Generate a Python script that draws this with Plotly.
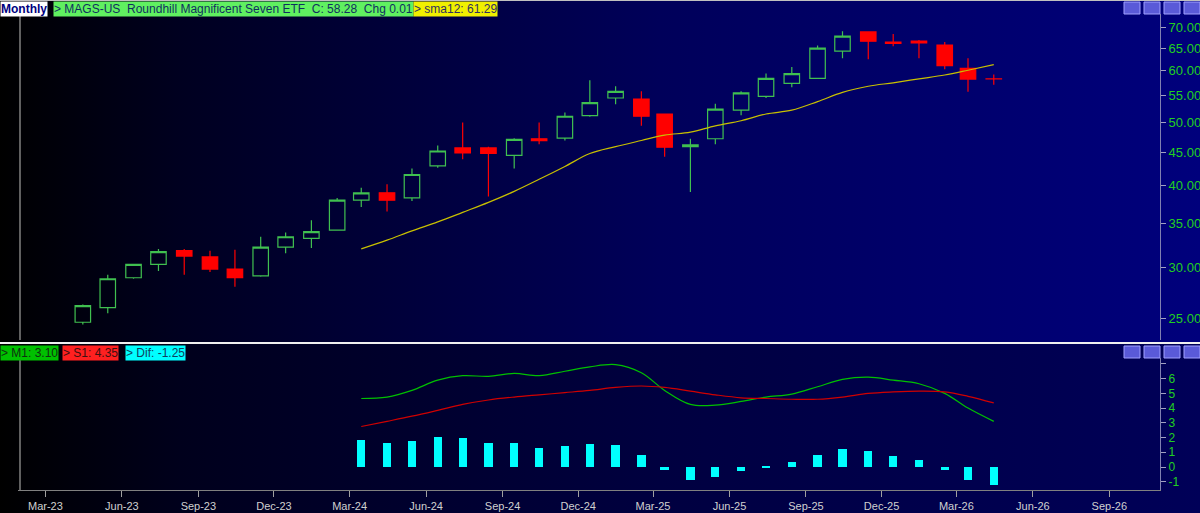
import plotly.graph_objects as go
import pandas as pd

months = pd.date_range("2023-04-01", periods=37, freq="MS") + pd.Timedelta(days=14)
dates = [d.strftime("%Y-%m-%d") for d in months]

opens  = [24.7,26.0,28.9,30.3,31.8,31.1,29.8,29.1,32.2,33.2,34.2,38.0,39.0,38.3,42.9,45.7,45.7,44.5,47.2,47.3,51.2,
          54.5,54.3,51.5,45.9,47.2,52.2,54.8,57.4,58.4,64.3,68.8,66.4,66.6,65.7,60.5,58.3]
highs  = [26.3,29.2,30.3,32.0,32.0,31.8,31.9,33.4,33.9,35.4,38.3,39.7,40.2,42.5,46.1,50.0,45.9,47.3,50.0,51.8,58.0,
          56.8,55.8,51.5,47.2,53.4,55.8,59.4,60.8,65.6,69.0,69.0,68.3,66.9,66.4,62.7,59.2]
lows   = [24.5,25.5,28.8,29.6,29.2,29.5,28.0,29.0,31.5,32.1,34.1,37.1,36.5,37.9,42.6,43.9,38.5,42.5,46.3,46.9,51.0,
          53.3,49.4,44.3,39.1,46.3,51.3,54.5,56.6,58.4,62.7,62.5,65.4,62.7,60.3,55.7,57.1]
closes = [26.2,28.8,30.3,31.7,31.2,29.8,28.9,32.2,33.4,34.0,38.0,39.0,38.0,41.6,45.2,44.9,44.8,47.1,46.9,51.1,53.6,
          55.8,51.1,45.8,46.2,52.4,55.5,58.4,59.4,65.0,67.8,66.6,66.1,66.2,61.1,58.27,58.28]

sma12 = [32.0,33.0,34.1,35.2,36.4,37.7,39.2,40.9,42.8,44.8,45.9,46.9,47.8,48.3,49.4,50.3,51.5,52.2,53.8,55.6,56.8,
         57.5,58.3,59.1,60.1,61.3]
m1  = [4.65,4.75,5.2,5.9,6.2,6.15,6.35,6.2,6.5,6.8,6.95,6.4,5.2,4.25,4.2,4.45,4.75,4.95,5.45,5.95,6.1,5.9,5.65,5.0,4.0,3.1]
s1  = [2.75,3.1,3.45,3.85,4.25,4.55,4.75,4.9,5.05,5.2,5.4,5.5,5.4,5.15,4.9,4.7,4.65,4.6,4.6,4.75,5.0,5.1,5.15,5.1,4.8,4.35]
dif = [1.85,1.6,1.75,2.05,1.95,1.65,1.6,1.3,1.45,1.55,1.5,0.85,-0.2,-0.85,-0.65,-0.3,0.1,0.35,0.85,1.2,1.1,0.75,0.5,-0.2,-0.9,-1.25]
ind_dates = dates[11:]

tick_vals = ["2023-03-01","2023-06-01","2023-09-01","2023-12-01","2024-03-01","2024-06-01","2024-09-01",
             "2024-12-01","2025-03-01","2025-06-01","2025-09-01","2025-12-01","2026-03-01","2026-06-01","2026-09-01"]
price_ticks = [25,30,35,40,45,50,55,60,65,70]

FONT = "Liberation Sans Narrow, Liberation Sans, Arial"
fig = go.Figure()

fig.add_trace(go.Scatter(x=[0,1,1,0,0], y=[0.33,0.33,1,1,0.33], fill="toself", mode="none",
    fillgradient=dict(type="horizontal", colorscale=[[0,"#000000"],[0.15,"#000020"],[0.55,"#00005a"],[1,"#00007c"]]),
    hoverinfo="skip", showlegend=False, xaxis="x", yaxis="y"))
fig.add_trace(go.Scatter(x=[0,1,1,0,0], y=[0,0,0.33,0.33,0], fill="toself", mode="none",
    fillgradient=dict(type="horizontal", colorscale=[[0,"#000000"],[0.15,"#00001c"],[0.55,"#000040"],[1,"#000058"]]),
    hoverinfo="skip", showlegend=False, xaxis="x", yaxis="y"))

fig.add_trace(go.Candlestick(x=dates, open=opens, high=highs, low=lows, close=closes,
    increasing=dict(line=dict(color="#40c050", width=1.2), fillcolor="rgba(0,0,0,0)"),
    decreasing=dict(line=dict(color="#ff0000", width=1.2), fillcolor="#ff0000"),
    whiskerwidth=0, showlegend=False, xaxis="x2", yaxis="y2"))
fig.add_trace(go.Scatter(x=ind_dates, y=sma12, mode="lines", line=dict(color="#c8c000", width=1.2, shape="spline"),
    showlegend=False, xaxis="x2", yaxis="y2"))

fig.add_trace(go.Bar(x=ind_dates, y=dif, marker=dict(color="#00ffff", line=dict(width=0)), width=10*86400000,
    showlegend=False, xaxis="x3", yaxis="y3"))
fig.add_trace(go.Scatter(x=ind_dates, y=m1, mode="lines", line=dict(color="#00c000", width=1.2, shape="spline"),
    showlegend=False, xaxis="x3", yaxis="y3"))
fig.add_trace(go.Scatter(x=ind_dates, y=s1, mode="lines", line=dict(color="#d00000", width=1.2, shape="spline"),
    showlegend=False, xaxis="x3", yaxis="y3"))

xr = ["2023-01-27", "2026-11-01"]
xd = [18/1200, 1160/1200]
fig.update_layout(
    width=1200, height=513, margin=dict(l=0, r=0, t=0, b=0, autoexpand=False),
    paper_bgcolor="#000020", plot_bgcolor="rgba(0,0,0,0)", bargap=0, boxgap=0.05,
    font=dict(family=FONT, size=12, color="#d0d0d0"),
    xaxis=dict(domain=[0,1], range=[0,1], visible=False, fixedrange=True),
    yaxis=dict(domain=[0,1], range=[0,1], visible=False, fixedrange=True),
    xaxis2=dict(domain=xd, range=xr, type="date", anchor="y2", showticklabels=False, showgrid=False,
                zeroline=False, rangeslider=dict(visible=False), matches="x3"),
    yaxis2=dict(domain=[1-340/513, 1-14/513], type="log", range=[1.3655, 1.8651], side="right", anchor="x2",
                tickvals=price_ticks, ticktext=[f"{v:.2f}" for v in price_ticks], ticks="outside", ticklen=5,
                tickcolor="#a0a0c0", showline=True, linecolor="#8080b0", showgrid=False, zeroline=False,
                automargin=False, tickfont=dict(color="#20d020", size=13, family=FONT)),
    xaxis3=dict(domain=xd, range=xr, type="date", anchor="y3", tickvals=tick_vals, tickformat="%b-%y",
                ticks="outside", ticklen=6, tickcolor="#a0a0a0", showline=True, linecolor="#808080",
                showgrid=False, zeroline=False, automargin=False, tickfont=dict(color="#d0d0d0", size=11, family=FONT)),
    yaxis3=dict(domain=[1-490/513, 1-358/513], range=[-1.56, 7.4], side="right", anchor="x3",
                tickvals=[-1,0,1,2,3,4,5,6,7], ticktext=["-1","0","1","2","3","4","5","6",""],
                ticks="outside", ticklen=5, tickcolor="#a0a0c0", showline=True, linecolor="#8080b0",
                showgrid=False, zeroline=False, automargin=False, tickfont=dict(color="#20d020", size=12, family=FONT)),
)

shapes = [
    dict(type="line", xref="paper", yref="paper", x0=0, x1=1, y0=1-343/513, y1=1-343/513, line=dict(color="#f0f0f0", width=2)),
    dict(type="line", xref="paper", yref="paper", x0=0, x1=1, y0=1, y1=1, line=dict(color="#c0c0c0", width=2)),
    dict(type="line", xref="paper", yref="paper", x0=20/1200, x1=20/1200, y0=1-340/513, y1=1-14/513, line=dict(color="#808080", width=1.5)),
    dict(type="line", xref="paper", yref="paper", x0=20/1200, x1=20/1200, y0=1-490/513, y1=1-358/513, line=dict(color="#808080", width=1.5)),
]
for top in (1, 345):
    for bx in [1124, 1144, 1164, 1184]:
        shapes.append(dict(type="rect", xref="paper", yref="paper", x0=bx/1200, x1=(bx+16)/1200,
                           y0=1-(top+13)/513, y1=1-(top+1)/513, fillcolor="#5a5ad8", line=dict(color="#a0a0ff", width=1)))
fig.update_layout(shapes=shapes)

def label(x, y, text, bg, fg, size=12):
    fig.add_annotation(xref="paper", yref="paper", x=x/1200, y=1-y/513, xanchor="left", yanchor="top",
                       text=text, showarrow=False, bgcolor=bg, font=dict(color=fg, size=size, family=FONT),
                       borderpad=0)

label(0, 1, "<b>Monthly</b>", "#ffffff", "#000080")
label(53, 1, "> MAGS-US  Roundhill Magnificent Seven ETF  C: 58.28  Chg 0.01", "#60f060", "#103060")
label(413, 1, "> sma12: 61.29", "#f0f000", "#303060")
label(0, 345, "> M1: 3.10", "#00c000", "#103010", 12)
label(62, 345, "> S1: 4.35", "#ff2020", "#401010", 12)
label(125, 345, "> Dif: -1.25", "#00ffff", "#104060", 12)

fig.write_html("out.html", config={"displayModeBar": False},
               post_script="document.body.style.margin='0';document.body.style.overflow='hidden';")
